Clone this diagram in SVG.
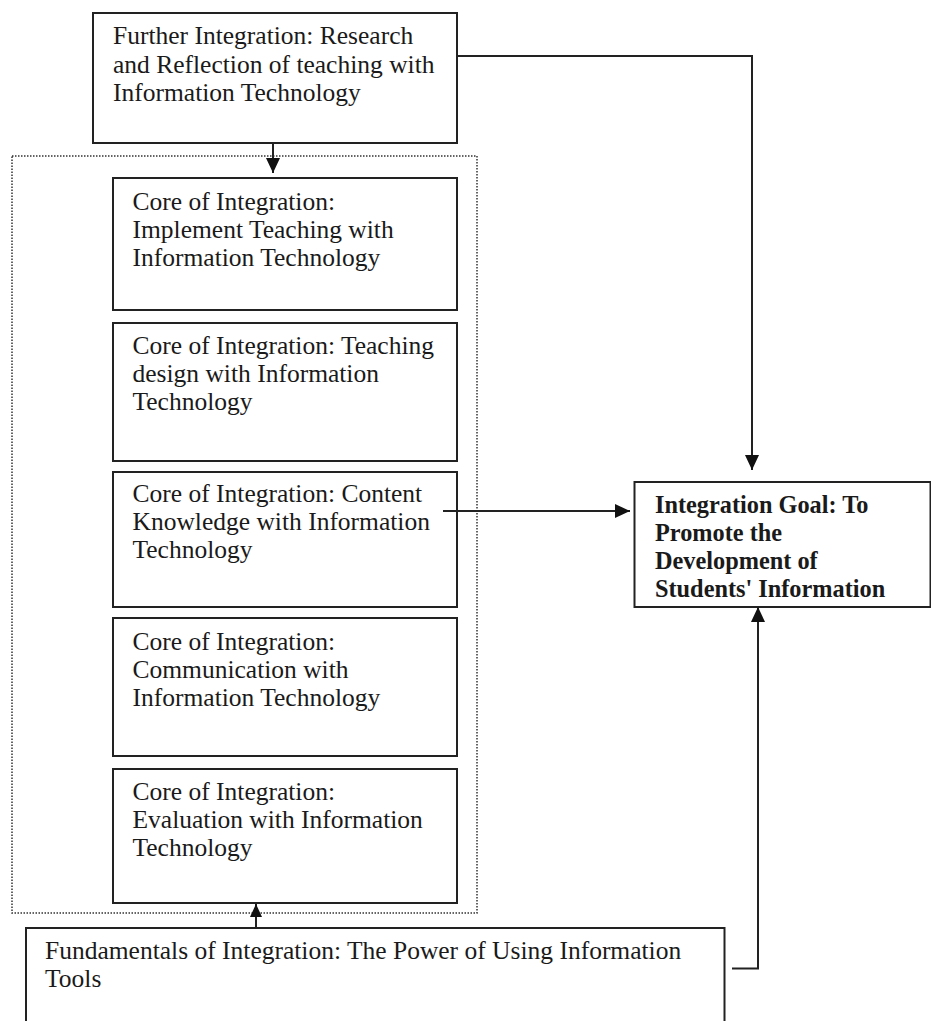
<svg xmlns="http://www.w3.org/2000/svg" width="931" height="1021" viewBox="0 0 931 1021">
<defs>
<style>
.box{fill:#fff;stroke:#222;stroke-width:2}
.t{font-family:"Liberation Serif","Times New Roman",serif;font-size:25.5px;fill:#1a1a1a}
.b{font-weight:bold;font-size:24.3px}
.ln{fill:none;stroke:#222;stroke-width:2}
.dot{fill:none;stroke:#333;stroke-width:1.5;stroke-dasharray:1.5 1.5}
</style>
<marker id="ah" viewBox="0 0 15 14" refX="15" refY="7" markerWidth="15" markerHeight="14" markerUnits="userSpaceOnUse" orient="auto">
<path d="M0,0 L15,7 L0,14 Z" fill="#111"/>
</marker>
<marker id="ahs" viewBox="0 0 13 12" refX="13" refY="6" markerWidth="13" markerHeight="12" markerUnits="userSpaceOnUse" orient="auto">
<path d="M0,0 L13,6 L0,12 Z" fill="#111"/>
</marker>
</defs>
<rect id="container" class="dot" x="12" y="156" width="465" height="757"/>
<g id="further">
<rect class="box" x="93" y="13" width="364" height="130"/>
<text class="t" x="113" y="44">Further Integration: Research</text>
<text class="t" x="113" y="72.5">and Reflection of teaching with</text>
<text class="t" x="113" y="101">Information Technology</text>
</g>
<g id="core1">
<rect class="box" x="113" y="178" width="344" height="132"/>
<text class="t" x="132.5" y="210">Core of Integration:</text>
<text class="t" x="132.5" y="238">Implement Teaching with</text>
<text class="t" x="132.5" y="266">Information Technology</text>
</g>
<g id="core2">
<rect class="box" x="113" y="323" width="344" height="138"/>
<text class="t" x="132.5" y="353.5">Core of Integration: Teaching</text>
<text class="t" x="132.5" y="381.5">design with Information</text>
<text class="t" x="132.5" y="409.5">Technology</text>
</g>
<g id="core3">
<rect class="box" x="113" y="472" width="344" height="135"/>
<text class="t" x="132.5" y="502">Core of Integration: Content</text>
<text class="t" x="132.5" y="530">Knowledge with Information</text>
<text class="t" x="132.5" y="558">Technology</text>
</g>
<g id="core4">
<rect class="box" x="113" y="618" width="344" height="138"/>
<text class="t" x="132.5" y="650">Core of Integration:</text>
<text class="t" x="132.5" y="678">Communication with</text>
<text class="t" x="132.5" y="706">Information Technology</text>
</g>
<g id="core5">
<rect class="box" x="113" y="769" width="344" height="134"/>
<text class="t" x="132.5" y="800">Core of Integration:</text>
<text class="t" x="132.5" y="828">Evaluation with Information</text>
<text class="t" x="132.5" y="856">Technology</text>
</g>
<g id="goal">
<rect class="box" x="634.5" y="482" width="296" height="125"/>
<text class="t b" x="655" y="513">Integration Goal: To</text>
<text class="t b" x="655" y="541">Promote the</text>
<text class="t b" x="655" y="568.5">Development of</text>
<text class="t b" x="655" y="596.5">Students' Information</text>
</g>
<g id="fundamentals">
<rect class="box" x="26" y="928" width="698.5" height="110"/>
<text class="t" x="45" y="958.5">Fundamentals of Integration: The Power of Using Information</text>
<text class="t" x="45" y="987">Tools</text>
</g>
<g id="connectors">
<path class="ln" d="M457,56 H752 V470" marker-end="url(#ah)"/>
<path class="ln" d="M273,143 V173" marker-end="url(#ah)"/>
<path class="ln" d="M443,511 H630" marker-end="url(#ah)"/>
<path class="ln" d="M732,968.5 H758 V607" marker-end="url(#ah)"/>
<path class="ln" d="M256,928 V904" marker-end="url(#ahs)"/>
</g>
</svg>
